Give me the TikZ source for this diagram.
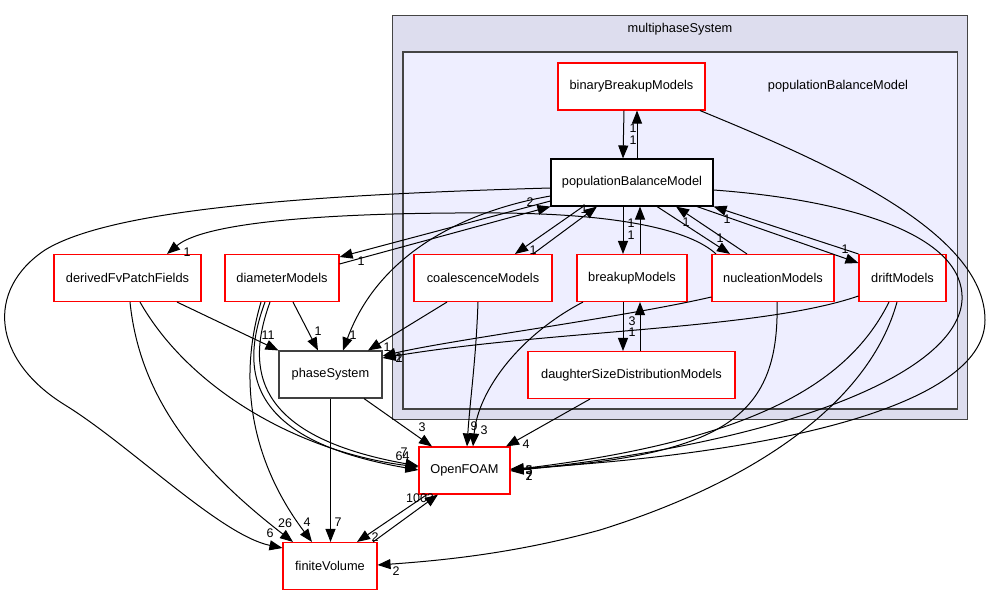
\documentclass[tikz,border=0pt]{standalone}
\usepackage{fontspec}
\setmainfont{Liberation Sans}
\usetikzlibrary{arrows.meta}
\definecolor{outerfill}{HTML}{DDDDEE}
\definecolor{innerfill}{HTML}{EEEEFF}
\definecolor{clusterline}{HTML}{444444}
\newcommand\boxfont{\fontsize{12.8}{15}\selectfont}
\newcommand\lblfont{\fontsize{12.5}{14}\selectfont}
\begin{document}
\begin{tikzpicture}[x=1pt,y=-1pt,
  dirbox/.style={draw=red, fill=white, line width=1.1pt, minimum height=47pt, inner sep=0pt, font=\boxfont},
  curbox/.style={dirbox, draw=black},
  parbox/.style={dirbox, draw=black!75},
  edge/.style={draw=black, line width=1pt, -{Triangle[length=13pt,width=10pt]}},
  lbl/.style={inner sep=0pt, font=\lblfont},
  clusterlbl/.style={inner sep=0pt, font=\boxfont}]
\useasboundingbox (0,0) rectangle (993,596);
% clusters
\draw[draw=clusterline, line width=1.5pt, fill=outerfill] (392.5,15.5) rectangle (967.5,419.5);
\node[clusterlbl] (outerlbl) at (680,29) {multiphaseSystem};
\draw[draw=clusterline, line width=1.3pt, fill=innerfill] (403,52) rectangle (957.5,409);
\node[clusterlbl] (innerlbl) at (838,86) {populationBalanceModel};
% nodes
\node[dirbox, minimum width=147pt] (bb) at (631.5,86.5) {binaryBreakupModels};
\node[curbox, minimum width=162pt] (pbm) at (632,182.5) {populationBalanceModel};
\node[dirbox, minimum width=138pt] (coal) at (483,278) {coalescenceModels};
\node[dirbox, minimum width=110pt] (brk) at (632,278) {breakupModels};
\node[dirbox, minimum width=122pt] (nuc) at (773,278) {nucleationModels};
\node[dirbox, minimum width=87pt] (drift) at (902.5,278) {driftModels};
\node[dirbox, minimum width=207pt] (dsd) at (631.5,375) {daughterSizeDistributionModels};
\node[dirbox, minimum width=147pt] (dfv) at (127.5,278) {derivedFvPatchFields};
\node[dirbox, minimum width=114pt] (diam) at (282,278) {diameterModels};
\node[parbox, minimum width=103pt] (ps) at (330.5,374.5) {phaseSystem};
\node[dirbox, minimum width=91pt] (of) at (464.5,470.5) {OpenFOAM};
\node[dirbox, minimum width=94pt] (fv) at (330,566) {finiteVolume};
% edges inside cluster
\draw[edge] (bb.south -| 624,0) -- (pbm.north -| 623,0);
\draw[edge] (pbm.north -| 637,0) -- (bb.south -| 637,0);
\draw[edge] (pbm.south -| 583,0) -- (coal.north -| 515,0);
\draw[edge] (coal.north -| 533,0) -- (pbm.south -| 597,0);
\draw[edge] (pbm.south -| 623,0) -- (brk.north -| 623,0);
\draw[edge] (brk.north -| 640,0) -- (pbm.south -| 640,0);
\draw[edge] (brk.south -| 623,0) -- (dsd.north -| 623,0);
\draw[edge] (dsd.north -| 640,0) -- (brk.south -| 640,0);
\draw[edge] (pbm.south -| 657,0) -- (nuc.north -| 730,0);
\draw[edge] (nuc.north -| 747,0) -- (pbm.south -| 676,0);
\draw[edge] (pbm.south -| 697,0) -- (drift.west |- 0,263);
\draw[edge] (drift.north west) -- (pbm.south east);
\draw[edge] (pbm.west |- 0,201) -- (diam.east |- 0,257);
\draw[edge] (diam.east |- 0,264) -- (pbm.south west);
% long curves
\draw[edge] (pbm.west |- 0,188) .. controls (300,195) and (110,210) .. (45,250)
  .. controls (-15,290) and (-8,360) .. (65,405)
  .. controls (130,445) and (220,535) .. (fv.west |- 0,548);
\draw[edge] (pbm.west |- 0,196) .. controls (470,210) and (380,250) .. (ps.north -| 343,0);
\draw[edge] (pbm.east |- 0,190) .. controls (850,200) and (965,235) .. (962,300)
  .. controls (958,370) and (800,440) .. (of.east |- 0,471);
\draw[edge] (bb.south -| 700,0) .. controls (820,160) and (985,230) .. (985,320)
  .. controls (985,400) and (800,452) .. (of.east |- 0,469);
\draw[edge] (nuc.south -| 777,0) .. controls (780,420) and (720,455) .. (of.east |- 0,470);
\draw[edge] (drift.south -| 889,0) .. controls (850,380) and (760,440) .. (of.east |- 0,470);
\draw[edge] (drift.south -| 897,0) .. controls (870,400) and (760,480) .. (600,530)
  .. controls (520,552) and (450,560) .. (fv.east |- 0,565);
\draw[edge] (nuc.north -| 716,0) .. controls (690,230) and (620,214) .. (500,213)
  .. controls (330,212) and (205,222) .. (dfv.north -| 167,0);
\draw[edge] (nuc.west |- 0,297) .. controls (620,318) and (450,340) .. (ps.east |- 0,356);
\draw[edge] (drift.west |- 0,296) .. controls (760,330) and (550,330) .. (ps.east |- 0,358);
\draw[edge] (coal.south -| 447,0) -- (ps.north -| 368,0);
\draw[edge] (coal.south -| 478,0) .. controls (476,360) and (470,400) .. (of.north -| 467,0);
\draw[edge] (brk.south -| 583,0) .. controls (520,335) and (478,390) .. (of.north -| 473,0);
\draw[edge] (dsd.south -| 590,0) -- (of.north -| 506,0);
\draw[edge] (ps.south -| 364,0) -- (of.north -| 432,0);
\draw[edge] (ps.south) -- (fv.north -| 330.5,0);
\draw[edge] (fv.north -| 373,0) -- (of.south -| 438,0);
\draw[edge] (of.south -| 427,0) -- (fv.north -| 357,0);
\draw[edge] (dfv.south -| 177,0) -- (ps.north west);
\draw[edge] (dfv.south -| 130,0) .. controls (140,400) and (200,470) .. (fv.north -| 293,0);
\draw[edge] (dfv.south -| 140,0) .. controls (190,390) and (300,452) .. (of.west |- 0,467);
\draw[edge] (diam.south -| 293,0) -- (ps.north -| 318,0);
\draw[edge] (diam.south -| 261,0) .. controls (232,400) and (265,480) .. (fv.north -| 312,0);
\draw[edge] (diam.south -| 265,0) .. controls (240,370) and (245,440) .. (of.west |- 0,470);
\draw[edge] (diam.south -| 270,0) .. controls (246,368) and (252,436) .. (of.west |- 0,466);
% labels
\node[lbl] (la1) at (633,128) {1};
\node[lbl] (la2) at (633,140) {1};
\node[lbl] (la3) at (533,250) {1};
\node[lbl] (la4) at (584,209) {1};
\node[lbl] (la5) at (631,223) {1};
\node[lbl] (la6) at (631,235) {1};
\node[lbl] (la7) at (632,321) {3};
\node[lbl] (la8) at (632,332) {1};
\node[lbl] (la9) at (720,238) {1};
\node[lbl] (la10) at (686,222) {1};
\node[lbl] (la11) at (845,249) {1};
\node[lbl] (la12) at (727,219) {1};
\node[lbl] (la13) at (361,261) {1};
\node[lbl] (la14) at (530,202) {2};
\node[lbl] (la15) at (187,252) {1};
\node[lbl] (la16) at (268,335) {11};
\node[lbl] (la17) at (318,331) {1};
\node[lbl] (la18) at (353,335) {1};
\node[lbl] (la19) at (387,347) {1};
\node[lbl] (la20) at (399,358) {1};
\node[lbl] (la21) at (399,358) {2};
\node[lbl] (la22) at (422,427) {3};
\node[lbl] (la23) at (474,426) {9};
\node[lbl] (la24) at (484,430) {3};
\node[lbl] (la25) at (526,444) {4};
\node[lbl] (la26) at (404,452) {7};
\node[lbl] (la27) at (402.5,456) {64};
\node[lbl] (la28) at (529,470) {5};
\node[lbl] (la29) at (529,470) {3};
\node[lbl] (la30) at (529,476) {2};
\node[lbl] (la31) at (529,476) {7};
\node[lbl] (la32) at (270,533) {6};
\node[lbl] (la33) at (285,523) {26};
\node[lbl] (la34) at (307,522) {4};
\node[lbl] (la35) at (338,522) {7};
\node[lbl] (la36) at (375,537) {2};
\node[lbl] (la37) at (420,498) {1003};
\node[lbl] (la38) at (396,571) {2};
\end{tikzpicture}
\end{document}
